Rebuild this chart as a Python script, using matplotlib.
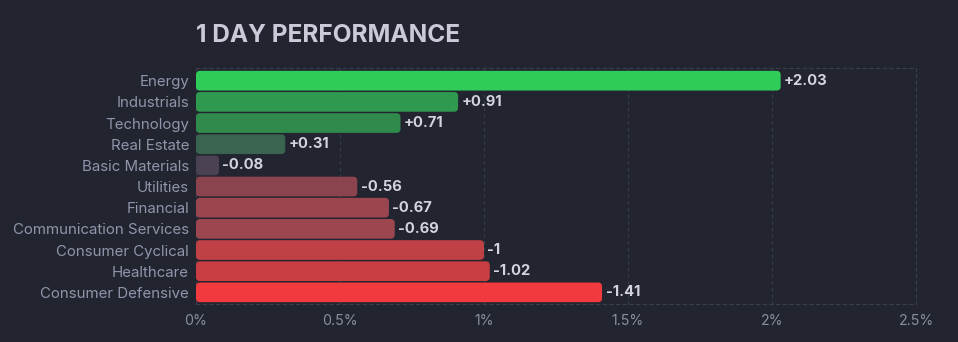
import matplotlib.pyplot as plt
from matplotlib.patches import FancyBboxPatch

sectors = ['Energy', 'Industrials', 'Technology', 'Real Estate', 'Basic Materials',
           'Utilities', 'Financial', 'Communication Services', 'Consumer Cyclical',
           'Healthcare', 'Consumer Defensive']
change = [2.03, 0.91, 0.71, 0.31, -0.08, -0.56, -0.67, -0.69, -1.0, -1.02, -1.41]
colors = ['#30cc5a', '#2f9a4f', '#2f8a4c', '#3a6350', '#4a4253', '#8b444e',
          '#9a454f', '#9c4750', '#bf4045', '#c83e43', '#f03a3d']
xticks = [0, 0.5, 1, 1.5, 2, 2.5]

bg = '#22252f'
plt.rcParams['font.family'] = ['Inter', 'DejaVu Sans']

fig = plt.figure(figsize=(9.58, 3.42), dpi=100, facecolor=bg)
ax = fig.add_axes([196/958, 38/342, 720/958, 236/342], facecolor=bg)

ax.set_xlim(0, 2.5)
ax.set_ylim(10.55, -0.6)

# rounded bars: radius in x units, aspect fixes the y radius
px_x = 720 / 2.5
px_y = 236 / 11.15
r = 4 / px_x
aspect = px_x / px_y
h = 0.93
for i, (v, c) in enumerate(zip(change, colors)):
    w = abs(v)
    ax.add_patch(FancyBboxPatch((0, i - h/2), w, h,
                                boxstyle=f'round,pad=0,rounding_size={r}',
                                mutation_aspect=aspect, fc=c, ec='none', zorder=3))
    ax.text(w + 0.012, i, f'{v:+g}', va='center', ha='left', color='#d2d5de',
            fontsize=10.6, fontweight='bold', zorder=4)

ax.set_yticks(range(len(sectors)))
ax.set_yticklabels(sectors)
ax.set_xticks(xticks)
ax.set_xticklabels([f'{t:g}%' for t in xticks])
ax.tick_params(axis='y', length=0, pad=5, labelcolor='#9195ab', labelsize=10.8)
ax.tick_params(axis='x', length=0, pad=7, labelcolor='#8a8ea0', labelsize=10.2)

ax.grid(axis='x', color='#3a3e4b', linestyle=(0, (3, 3)), linewidth=0.8, zorder=0)
for s in ['top', 'bottom', 'right']:
    ax.spines[s].set_color('#3a3e4b')
    ax.spines[s].set_linestyle((0, (3, 3)))
    ax.spines[s].set_linewidth(0.8)
ax.spines['left'].set_visible(False)

fig.text(196/958, 1 - 42/342, '1 DAY PERFORMANCE', color='#c9ccd8', fontsize=17.6,
         fontweight='bold', ha='left', va='baseline')

fig.savefig('out.png', dpi=100, facecolor=bg)
